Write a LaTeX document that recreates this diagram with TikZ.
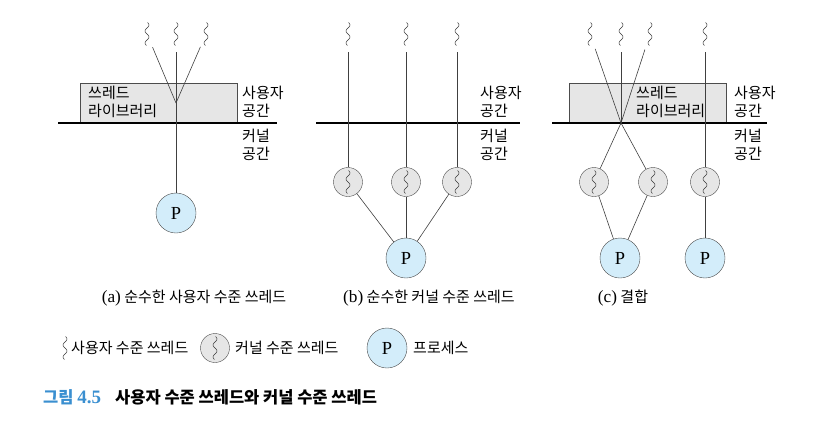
\documentclass[tikz,border=0pt]{standalone}
\usepackage{fontspec}
\setmainfont{Noto Sans CJK KR}
\newfontfamily\lat{Liberation Serif}[Scale=1.15]
\usepackage{tikz}
\usetikzlibrary{positioning}
\definecolor{procblue}{HTML}{D3EDFA}
\definecolor{libgray}{HTML}{E6E6E6}
\definecolor{figblue}{HTML}{3A8FD0}
\newcommand\nsize{\fontsize{15}{18}\selectfont}

\begin{document}
\begin{tikzpicture}
        [
        x=1pt, y=-1pt,
        font=\nsize,
        wave/.style = {path picture={\draw[black!80, line width=0.5pt, shift={(path picture bounding box.center)}]
            plot[domain=-11.5:11.5, samples=40, smooth] ({2*sin(30*\x)}, \x);}},
        uthread/.style = {wave, minimum width=6pt, minimum height=24pt, inner sep=0pt},
        kthread/.style = {wave, circle, draw=black!70, fill=libgray, minimum size=29pt, inner sep=0pt},
        proc/.style = {circle, draw=black!70, fill=procblue, minimum size=40pt, inner sep=0pt, font=\lat\fontsize{16}{20}\selectfont},
        lib/.style = {draw=black!70, fill=libgray, minimum height=40pt, inner sep=0pt},
        space/.style = {align=left, anchor=west, inner sep=0pt},
        link/.style = {draw=black!75, line width=0.6pt},
        ulink/.style = {link, shorten <=6pt},
        kernel/.style = {line width=1.6pt}
        ]
    \useasboundingbox (0,0) rectangle (818,426);

    % (a)
    \node[lib, minimum width=157pt] (liba) at (158.5,103) {};
    \node[space] (libta) at (88,102) {쓰레드\\라이브러리};
    \draw[kernel] (58,123) -- (277,123);
    \node[space] (usera) at (242,102) {사용자\\공간};
    \node[space] (kerna) at (242,145) {커널\\공간};
    \node[uthread] (ua1) at (147,34) {};
    \node[uthread] (ua2) at (176,34) {};
    \node[uthread] (ua3) at (206,34) {};
    \coordinate (ja) at (176,103);
    \node[proc] (pa) at (176,213) {P};
    \draw[ulink] (ua1) -- (ja);
    \draw[ulink] (ua3) -- (ja);
    \draw[ulink] (ua2) -- (pa);

    % (b)
    \draw[kernel] (316,123) -- (520,123);
    \node[space] (userb) at (480,102) {사용자\\공간};
    \node[space] (kernb) at (480,145) {커널\\공간};
    \node[uthread] (ub1) at (348,34) {};
    \node[uthread] (ub2) at (406,34) {};
    \node[uthread] (ub3) at (457,34) {};
    \node[kthread] (kb1) at (348,182) {};
    \node[kthread] (kb2) at (406,182) {};
    \node[kthread] (kb3) at (457,182) {};
    \node[proc] (pb) at (406,258) {P};
    \foreach \i in {1,2,3} {
        \draw[ulink] (ub\i) -- (kb\i);
        \draw[link] (kb\i) -- (pb);
    }

    % (c)
    \node[lib, minimum width=157pt] (libc) at (647.5,103) {};
    \node[space] (libtc) at (636,102) {쓰레드\\라이브러리};
    \draw[kernel] (552,123) -- (767,123);
    \node[space] (userc) at (734,102) {사용자\\공간};
    \node[space] (kernc) at (734,145) {커널\\공간};
    \node[uthread] (uc1) at (590,34) {};
    \node[uthread] (uc2) at (621,34) {};
    \node[uthread] (uc3) at (650,34) {};
    \node[uthread] (uc4) at (705,34) {};
    \coordinate (jc) at (621,123);
    \node[kthread] (kc1) at (594,182) {};
    \node[kthread] (kc2) at (653,182) {};
    \node[kthread] (kc3) at (705,182) {};
    \node[proc] (pc1) at (620,258) {P};
    \node[proc] (pc2) at (705,258) {P};
    \foreach \i in {1,2,3} \draw[ulink] (uc\i) -- (jc);
    \draw[link] (jc) -- (kc1);
    \draw[link] (jc) -- (kc2);
    \draw[link] (kc1) -- (pc1);
    \draw[link] (kc2) -- (pc1);
    \draw[ulink] (uc4) -- (kc3);
    \draw[link] (kc3) -- (pc2);

    % captions
    \node (capa) at (194,298) {{\lat (a)} 순수한 사용자 수준 쓰레드};
    \node (capb) at (429,298) {{\lat (b)} 순수한 커널 수준 쓰레드};
    \node (capc) at (623,298) {{\lat (c)} 결합};

    % legend
    \node[uthread] (lu) at (65,348) {};
    \node[space] (lut) at (71,348) {사용자 수준 쓰레드};
    \node[kthread] (lk) at (215,348) {};
    \node[space] (lkt) at (235,348) {커널 수준 쓰레드};
    \node[proc] (lp) at (387,348) {P};
    \node[space] (lpt) at (413,348) {프로세스};

    \node[space, text=figblue, font=\fontsize{16.5}{18}\selectfont\bfseries] (fig) at (43,397) {그림 {\lat 4.5}};
    \node[space, font=\fontsize{16.5}{18}\selectfont\bfseries] (title) at (115,397) {사용자 수준 쓰레드와 커널 수준 쓰레드};
    \end{tikzpicture}
\end{document}
